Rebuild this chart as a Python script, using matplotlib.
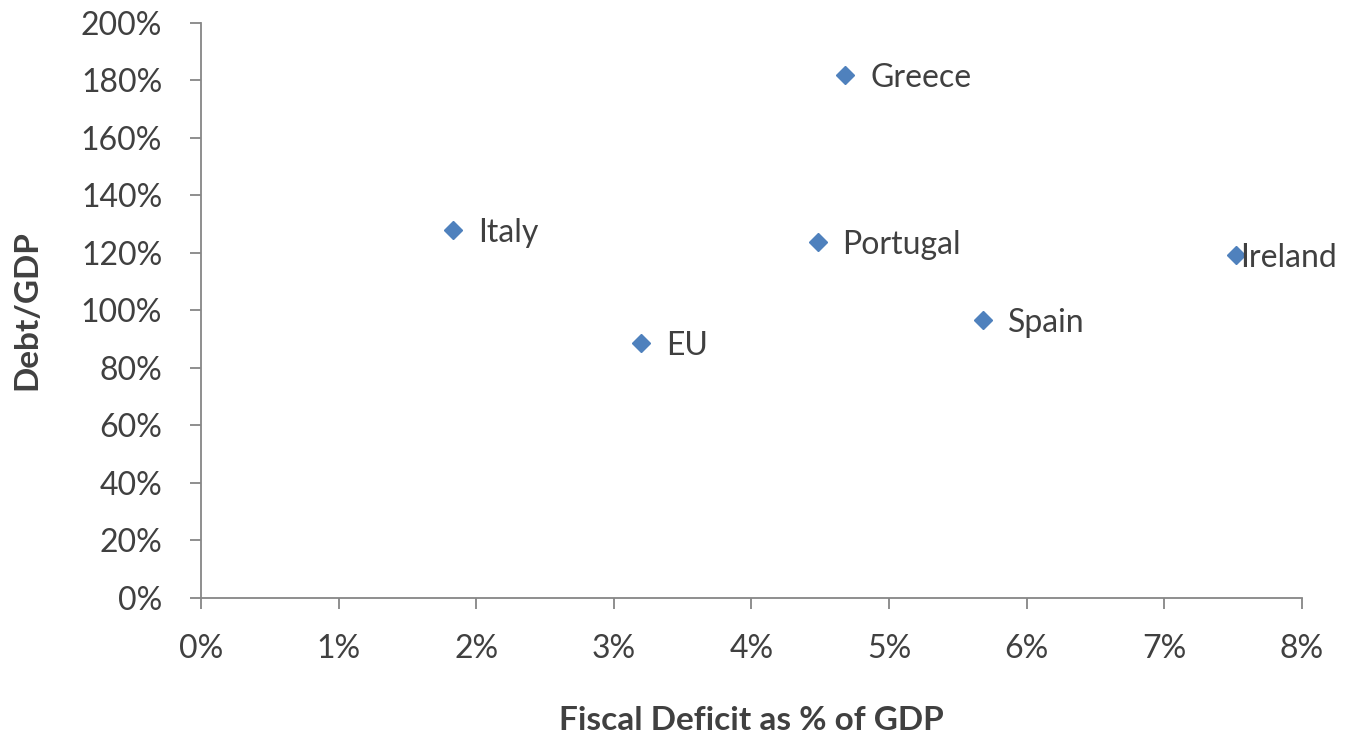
import matplotlib.pyplot as plt
from matplotlib.ticker import FuncFormatter

plt.rcParams['font.family'] = ['Lato', 'DejaVu Sans']

countries = ['Italy', 'EU', 'Portugal', 'Greece', 'Spain', 'Ireland']
deficit = [1.83, 3.20, 4.48, 4.68, 5.68, 7.52]    # % of GDP
debt = [128, 88.7, 123.8, 181.9, 96.7, 119.3]      # % of GDP
label_dx = [18, 18, 18, 18, 18, 3]                 # label offsets (points)

text_color = '#404040'
axis_color = '#868686'

fig = plt.figure(figsize=(13.5, 7.34), dpi=100)
ax = fig.add_axes([0.1489, 0.1853, 0.8155, 0.7834])

ax.plot(deficit, debt, linestyle='none', marker='D', markersize=9,
        color='#4F81BD', markeredgecolor='#4F81BD')

for name, x, y, dx in zip(countries, deficit, debt, label_dx):
    ax.annotate(name, (x, y), xytext=(dx, -2), textcoords='offset points',
                ha='left', va='center', fontsize=23, color=text_color)

ax.set_xlim(0, 8)
ax.set_ylim(0, 200)
ax.set_xticks(range(0, 9))
ax.set_yticks(range(0, 201, 20))
ax.xaxis.set_major_formatter(FuncFormatter(lambda v, p: f'{v:.0f}%'))
ax.yaxis.set_major_formatter(FuncFormatter(lambda v, p: f'{v:.0f}%'))

for side in ['top', 'right']:
    ax.spines[side].set_visible(False)
for side in ['left', 'bottom']:
    ax.spines[side].set_color(axis_color)
    ax.spines[side].set_linewidth(1.3)

ax.tick_params(axis='both', colors=axis_color, length=8, width=1.3,
               labelsize=23, labelcolor=text_color)
ax.tick_params(axis='x', pad=18)
ax.tick_params(axis='y', pad=20)

ax.set_xlabel('Fiscal Deficit as % of GDP', fontsize=24, fontweight='bold',
              color=text_color, labelpad=30)
ax.set_ylabel('Debt/GDP', fontsize=24, fontweight='bold',
              color=text_color, labelpad=28)

fig.savefig('out.png', dpi=100)
